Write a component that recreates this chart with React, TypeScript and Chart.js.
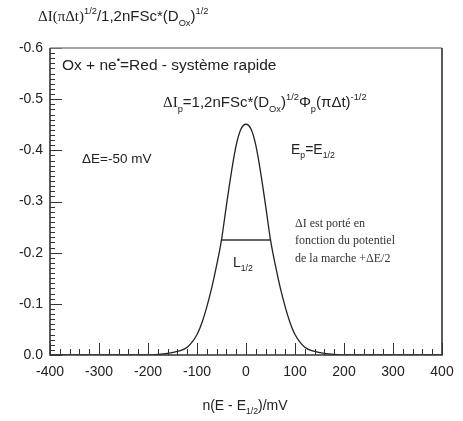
import React, { useEffect, useRef } from 'react';
import { Chart, registerables } from 'chart.js';
Chart.register(...registerables);

// ---- data ----
const potentials = [-400, -300, -250, -200, -180, -160, -140, -120, -100, -90, -80, -70, -60, -50, -40, -30, -20, -10, 0, 10, 20, 30, 40, 50, 60, 70, 80, 90, 100, 120, 140, 160, 180, 200, 250, 300, 400];
const currents = [0, 0, 0, 0, -0.001, -0.003, -0.007, -0.015, -0.04, -0.063, -0.094, -0.131, -0.175, -0.225, -0.292, -0.356, -0.41, -0.442, -0.451, -0.442, -0.41, -0.356, -0.292, -0.225, -0.175, -0.131, -0.094, -0.063, -0.04, -0.015, -0.007, -0.003, -0.001, 0, 0, 0, 0];
const halfWidthX = [-50, 50];
const halfWidthY = [-0.225, -0.225];
const xRange = [-400, 400];
const yRange = [-0.6, 0];
const xMajorStep = 100;
const xMinorStep = 20;
const yMajorStep = 0.1;
const yMinorStep = 0.01;

type Seg = [string, 'n' | 'sub' | 'sup', string?];
const SANS = '"Liberation Sans", Arial, sans-serif';
const SERIF = '"Liberation Serif", "Times New Roman", serif';

function drawRich(ctx: CanvasRenderingContext2D, x: number, y: number, segs: Seg[], size: number, align: 'left' | 'center' = 'left') {
  const measure = () => {
    let w = 0;
    for (const [t, k, fam] of segs) {
      const s = k === 'n' ? size : size * 0.62;
      ctx.font = `${s}px ${fam === 'serif' ? SERIF : SANS}`;
      w += ctx.measureText(t).width;
    }
    return w;
  };
  let cx = align === 'center' ? x - measure() / 2 : x;
  ctx.textAlign = 'left';
  ctx.textBaseline = 'alphabetic';
  for (const [t, k, fam] of segs) {
    const s = k === 'n' ? size : size * 0.62;
    ctx.font = `${s}px ${fam === 'serif' ? SERIF : SANS}`;
    const dy = k === 'sup' ? -size * 0.45 : k === 'sub' ? size * 0.3 : 0;
    ctx.fillText(t, cx, y + dy);
    cx += ctx.measureText(t).width;
  }
}

const framePlugin = {
  id: 'framePlugin',
  afterDraw(chart: any) {
    const ctx: CanvasRenderingContext2D = chart.ctx;
    const { left, right, top, bottom } = chart.chartArea;
    const xs = chart.scales.x;
    const ys = chart.scales.y;
    ctx.save();
    // ticks
    ctx.strokeStyle = '#333';
    ctx.lineWidth = 1;
    ctx.beginPath();
    const nx = Math.round((xRange[1] - xRange[0]) / xMinorStep);
    for (let i = 0; i <= nx; i++) {
      const v = xRange[0] + i * xMinorStep;
      const px = Math.round(xs.getPixelForValue(v)) + 0.5;
      const major = Math.abs(v / xMajorStep - Math.round(v / xMajorStep)) < 1e-6;
      ctx.moveTo(px, bottom);
      ctx.lineTo(px, bottom - (major ? 12 : 6));
    }
    const ny = Math.round((yRange[1] - yRange[0]) / yMinorStep);
    for (let i = 0; i <= ny; i++) {
      const v = yRange[0] + i * yMinorStep;
      const py = Math.round(ys.getPixelForValue(v)) + 0.5;
      const major = i % Math.round(yMajorStep / yMinorStep) === 0;
      ctx.moveTo(left, py);
      ctx.lineTo(left + (major ? 12 : 5), py);
    }
    ctx.stroke();
    // frame
    ctx.lineWidth = 1.6;
    ctx.strokeStyle = '#888';
    ctx.beginPath();
    ctx.moveTo(left, top);
    ctx.lineTo(right, top);
    ctx.stroke();
    ctx.strokeStyle = '#333';
    ctx.beginPath();
    ctx.moveTo(right, top);
    ctx.lineTo(right, bottom);
    ctx.lineTo(left, bottom);
    ctx.lineTo(left, top);
    ctx.stroke();

    // texts
    ctx.fillStyle = '#222';
    drawRich(ctx, 38, 21, [['ΔI(πΔt)', 'n', 'serif'], ['1/2', 'sup'], ['/1,2nFSc*(D', 'n'], ['Ox', 'sub'], [')', 'n'], ['1/2', 'sup']], 15);
    drawRich(ctx, 62, 70, [['Ox + ne', 'n'], ['•', 'sup'], ['=Red - système rapide', 'n']], 15.5);
    drawRich(ctx, 163, 107, [['ΔI', 'n', 'serif'], ['p', 'sub'], ['=1,2nFSc*(D', 'n'], ['Ox', 'sub'], [')', 'n'], ['1/2', 'sup'], ['Φ', 'n'], ['p', 'sub'], ['(πΔt)', 'n'], ['-1/2', 'sup']], 15);
    drawRich(ctx, 82, 163, [['ΔE=-50 mV', 'n']], 13.5);
    drawRich(ctx, 291, 154, [['E', 'n'], ['p', 'sub'], ['=E', 'n'], ['1/2', 'sub']], 14);
    ctx.fillStyle = '#333';
    ctx.font = `12px ${SERIF}`;
    ctx.textAlign = 'left';
    ctx.fillText('ΔI est porté en', 295, 227);
    ctx.fillText('fonction du potentiel', 295, 244);
    ctx.fillText('de la marche +ΔE/2', 295, 262);
    ctx.fillStyle = '#222';
    drawRich(ctx, 233, 267, [['L', 'n'], ['1/2', 'sub']], 14);
    drawRich(ctx, 245, 410, [['n(E - E', 'n'], ['1/2', 'sub'], [')/mV', 'n']], 14, 'center');
    ctx.restore();
  },
};

export default function App() {
  const ref = useRef<HTMLCanvasElement>(null);
  useEffect(() => {
    document.body.style.margin = '0';
    const canvas = ref.current!;
    const chart = new Chart(canvas, {
      type: 'line',
      data: {
        datasets: [
          {
            data: potentials.map((x, i) => ({ x, y: currents[i] })),
            borderColor: '#222',
            borderWidth: 1.3,
            pointRadius: 0,
            cubicInterpolationMode: 'monotone',
            fill: false,
          },
          {
            data: halfWidthX.map((x, i) => ({ x, y: halfWidthY[i] })),
            borderColor: '#333',
            borderWidth: 1.5,
            pointRadius: 0,
            fill: false,
          },
        ],
      },
      options: {
        responsive: false,
        animation: false,
        devicePixelRatio: 1,
        layout: { padding: { top: 48, right: 21, left: 0, bottom: 0 } },
        plugins: { legend: { display: false }, tooltip: { enabled: false } },
        scales: {
          x: {
            type: 'linear',
            min: xRange[0],
            max: xRange[1],
            grid: { display: false, drawTicks: false },
            border: { display: false },
            afterFit: (s: any) => { s.height = 66; },
            ticks: {
              stepSize: xMajorStep,
              padding: 9,
              color: '#222',
              font: { family: SANS, size: 14 },
              maxRotation: 0,
              callback: (v: any) => String(v),
            },
          },
          y: {
            type: 'linear',
            min: yRange[0],
            max: yRange[1],
            reverse: true,
            grid: { display: false, drawTicks: false },
            border: { display: false },
            afterFit: (s: any) => { s.width = 50; },
            ticks: {
              stepSize: yMajorStep,
              padding: 7,
              color: '#222',
              font: { family: SANS, size: 14 },
              callback: (v: any) => Number(v).toFixed(1),
            },
          },
        },
      },
      plugins: [framePlugin],
    } as any);
    return () => chart.destroy();
  }, []);
  return <canvas ref={ref} width={463} height={421} style={{ display: 'block' }} />;
}
